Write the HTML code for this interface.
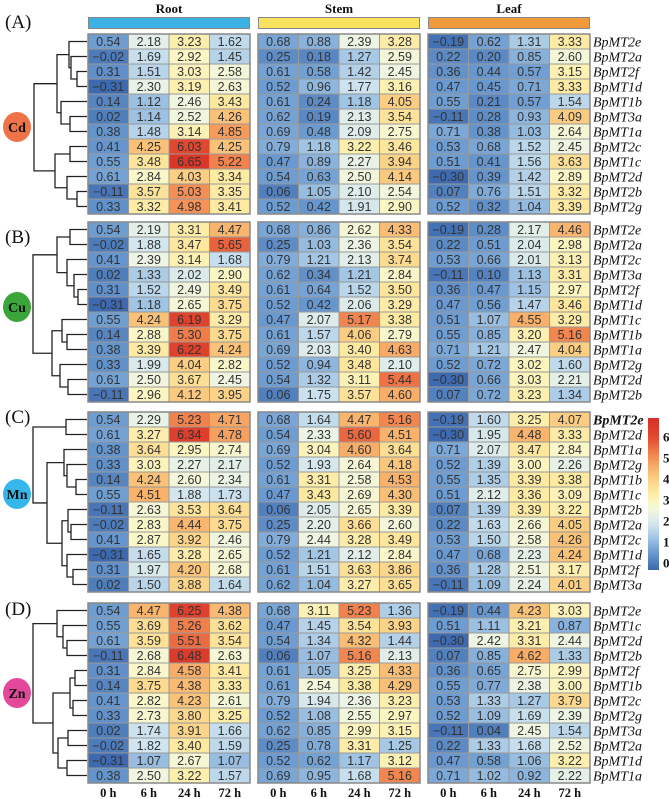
<!DOCTYPE html>
<html><head><meta charset="utf-8">
<style>
html,body{margin:0;padding:0;background:#fff;}
svg{display:block;}
</style></head>
<body>
<svg id="chart" width="669" height="799" viewBox="0 0 669 799" xmlns="http://www.w3.org/2000/svg"></svg>
<script>
const tissues = ["Root","Stem","Leaf"];
const timepoints = ["0 h","6 h","24 h","72 h"];
const metals = ["Cd","Cu","Mn","Zn"];
const panelLetters = ["(A)","(B)","(C)","(D)"];
const colorbarTicks = [0,1,2,3,4,5,6];

const genesA = ["BpMT2e","BpMT2a","BpMT2f","BpMT1d","BpMT1b","BpMT3a","BpMT1a","BpMT2c","BpMT1c","BpMT2d","BpMT2b","BpMT2g"];
const rootA = [[0.54,2.18,3.23,1.62],[-0.02,1.69,2.92,1.45],[0.31,1.51,3.03,2.58],[-0.31,2.30,3.19,2.63],[0.14,1.12,2.46,3.43],[0.02,1.14,2.52,4.26],[0.38,1.48,3.14,4.85],[0.41,4.25,6.03,4.25],[0.55,3.48,6.65,5.22],[0.61,2.84,4.03,3.34],[-0.11,3.57,5.03,3.35],[0.33,3.32,4.98,3.41]];
const stemA = [[0.68,0.88,2.39,3.28],[0.25,0.18,1.27,2.59],[0.61,0.58,1.42,2.45],[0.52,0.96,1.77,3.16],[0.61,0.24,1.18,4.05],[0.62,0.19,2.13,3.54],[0.69,0.48,2.09,2.75],[0.79,1.18,3.22,3.46],[0.47,0.89,2.27,3.94],[0.54,0.63,2.50,4.14],[0.06,1.05,2.10,2.54],[0.52,0.42,1.91,2.90]];
const leafA = [[-0.19,0.62,1.31,3.33],[0.22,0.20,0.85,2.60],[0.36,0.44,0.57,3.15],[0.47,0.45,0.71,3.33],[0.55,0.21,0.57,1.54],[-0.11,0.28,0.93,4.09],[0.71,0.38,1.03,2.64],[0.53,0.68,1.52,2.45],[0.51,0.41,1.56,3.63],[-0.30,0.39,1.42,2.89],[0.07,0.76,1.51,3.32],[0.52,0.32,1.04,3.39]];

const genesB = ["BpMT2e","BpMT2a","BpMT2c","BpMT3a","BpMT2f","BpMT1d","BpMT1c","BpMT1b","BpMT1a","BpMT2g","BpMT2d","BpMT2b"];
const rootB = [[0.54,2.19,3.31,4.47],[-0.02,1.88,3.47,5.65],[0.41,2.39,3.14,1.68],[0.02,1.33,2.02,2.90],[0.31,1.52,2.49,3.49],[-0.31,1.18,2.65,3.75],[0.55,4.24,6.19,3.29],[0.14,2.88,5.30,3.75],[0.38,3.39,6.22,4.24],[0.33,1.99,4.04,2.82],[0.61,2.50,3.67,2.45],[-0.11,2.96,4.12,3.95]];
const stemB = [[0.68,0.86,2.62,4.33],[0.25,1.03,2.36,3.54],[0.79,1.21,2.13,3.74],[0.62,0.34,1.21,2.84],[0.61,0.64,1.52,3.50],[0.52,0.42,2.06,3.29],[0.47,2.07,5.17,3.38],[0.61,1.57,4.06,2.79],[0.69,2.03,3.40,4.63],[0.52,0.94,3.48,2.10],[0.54,1.32,3.11,5.44],[0.06,1.75,3.57,4.60]];
const leafB = [[-0.19,0.28,2.17,4.46],[0.22,0.51,2.04,2.98],[0.53,0.66,2.01,3.13],[-0.11,0.10,1.13,3.31],[0.36,0.47,1.15,2.97],[0.47,0.56,1.47,3.46],[0.51,1.07,4.55,3.29],[0.55,0.85,3.20,5.16],[0.71,1.21,2.47,4.04],[0.52,0.72,3.02,1.60],[-0.30,0.66,3.03,2.21],[0.07,0.72,3.23,1.34]];

const genesC = ["BpMT2e","BpMT2d","BpMT1a","BpMT2g","BpMT1b","BpMT1c","BpMT2b","BpMT2a","BpMT2c","BpMT1d","BpMT2f","BpMT3a"];
const rootC = [[0.54,2.29,5.23,4.71],[0.61,3.27,6.34,4.78],[0.38,3.64,2.95,2.74],[0.33,3.03,2.27,2.17],[0.14,4.24,2.60,2.34],[0.55,4.51,1.88,1.73],[-0.11,2.63,3.53,3.64],[-0.02,2.83,4.44,3.75],[0.41,2.87,3.92,2.46],[-0.31,1.65,3.28,2.65],[0.31,1.97,4.20,2.68],[0.02,1.50,3.88,1.64]];
const stemC = [[0.68,1.64,4.47,5.16],[0.54,2.33,5.60,4.51],[0.69,3.04,4.60,3.64],[0.52,1.93,2.64,4.18],[0.61,3.31,2.58,4.53],[0.47,3.43,2.69,4.30],[0.06,2.05,2.65,3.39],[0.25,2.20,3.66,2.60],[0.79,2.44,3.28,3.49],[0.52,1.21,2.12,2.84],[0.61,1.51,3.63,3.86],[0.62,1.04,3.27,3.65]];
const leafC = [[-0.19,1.60,3.25,4.07],[-0.30,1.95,4.48,3.33],[0.71,2.07,3.47,2.84],[0.52,1.39,3.00,2.26],[0.55,1.35,3.39,3.38],[0.51,2.12,3.36,3.09],[0.07,1.39,3.39,3.22],[0.22,1.63,2.66,4.05],[0.53,1.50,2.58,4.26],[0.47,0.68,2.23,4.24],[0.36,1.28,2.51,3.17],[-0.11,1.09,2.24,4.01]];

const genesD = ["BpMT2e","BpMT1c","BpMT2d","BpMT2b","BpMT2f","BpMT1b","BpMT2c","BpMT2g","BpMT3a","BpMT2a","BpMT1d","BpMT1a"];
const rootD = [[0.54,4.47,6.25,4.38],[0.55,3.69,5.26,3.62],[0.61,3.59,5.51,3.54],[-0.11,2.68,6.48,2.63],[0.31,2.84,4.58,3.41],[0.14,3.75,4.38,3.33],[0.41,2.82,4.23,2.61],[0.33,2.73,3.80,3.25],[0.02,1.74,3.91,1.66],[-0.02,1.82,3.40,1.59],[-0.31,1.07,2.67,1.07],[0.38,2.50,3.22,1.57]];
const stemD = [[0.68,3.11,5.23,1.36],[0.47,1.45,3.54,3.93],[0.54,1.34,4.32,1.44],[0.06,1.07,5.16,2.13],[0.61,1.05,3.25,4.33],[0.61,2.54,3.38,4.29],[0.79,1.94,2.36,3.23],[0.52,1.08,2.55,2.97],[0.62,0.85,2.99,3.15],[0.25,0.78,3.31,1.25],[0.52,0.62,1.17,3.12],[0.69,0.95,1.68,5.16]];
const leafD = [[-0.19,0.44,4.23,3.03],[0.51,1.11,3.21,0.87],[-0.30,2.42,3.31,2.44],[0.07,0.85,4.62,1.33],[0.36,0.65,2.75,2.99],[0.55,0.77,2.38,3.00],[0.53,1.33,1.27,3.79],[0.52,1.09,1.69,2.39],[-0.11,0.04,2.45,1.54],[0.22,1.33,1.68,2.52],[0.47,0.58,1.06,3.22],[0.71,1.02,0.92,2.22]];

// dendrogram topology: [nodeX, left, right], leaves = row index
const treeA = [34,[57,[69,0,[71,1,[77,2,3]]],[61,4,[70,5,6]]],[55,[70,7,8],[67,9,[77,10,11]]]];
const treeB = [33,[57,[70,0,1],[67,2,[74,3,[78,4,5]]]],[52,[62,6,[67,7,8]],[60,9,[68,10,11]]]];
const treeC = [33,[66,0,1],[47,[64,2,[67,3,[76,4,5]]],[62,[68,6,[71,7,8]],[67,9,[73,10,11]]]]];
const treeD = [33,[57,0,[63,1,[67,2,3]]],[53,[70,[75,4,5],[73,6,7]],[58,[68,8,9],[67,10,11]]]];

const panelGenes = [genesA,genesB,genesC,genesD];
const panelData = [[rootA,stemA,leafA],[rootB,stemB,leafB],[rootC,stemC,leafC],[rootD,stemD,leafD]];
const panelTrees = [treeA,treeB,treeC,treeD];

// layout
const panelTop = [34,222,412,603];
const rowH = 15;
const blockX = [88,258,428];
const blockW = 162;
const cellW = blockW/4;
const leafX = 87;
const tissueColors = ["#3cb1e4","#f9e25e","#f19a3c"];
const circleColors = ["#ee7347","#3aa539","#35b7ec","#e4489b"];
const circleY = [127,307,494,693];
const letterY = [28,243,423,615];

const stops = [[-0.35,[58,103,174]],[0.5,[107,155,209]],[1.2,[162,197,228]],[1.8,[207,228,239]],[2.4,[238,245,228]],[2.9,[251,247,197]],[3.4,[253,233,160]],[4.0,[251,208,133]],[4.6,[248,173,104]],[5.3,[240,124,74]],[6.0,[224,72,47]],[6.9,[215,48,39]]];
function color(v){
  if(v<=stops[0][0]) return rgb(stops[0][1]);
  for(let i=1;i<stops.length;i++){
    if(v<=stops[i][0]){
      const a=stops[i-1],b=stops[i],t=(v-a[0])/(b[0]-a[0]);
      return rgb(a[1].map((c,k)=>Math.round(c+(b[1][k]-c)*t)));
    }
  }
  return rgb(stops[stops.length-1][1]);
}
function rgb(a){return "rgb("+a.join(",")+")";}

const NS="http://www.w3.org/2000/svg";
const svg=document.getElementById("chart");
function mk(tag,attrs,parent){const e=document.createElementNS(NS,tag);for(const k in attrs)e.setAttribute(k,attrs[k]);(parent||svg).appendChild(e);return e;}
function rowY(p,r){return panelTop[p]+r*rowH;}

// headers
tissues.forEach((t,i)=>{
  const tt=mk("text",{x:blockX[i]+blockW/2,y:13,"text-anchor":"middle","font-family":"Liberation Serif, serif","font-weight":"bold","font-size":"13",fill:"#111"});
  tt.textContent=t;
  
  
  const b=mk("rect",{x:blockX[i]+0.5,y:17.5,width:blockW-1,height:11,fill:tissueColors[i],stroke:"#888","stroke-width":"1"});
  
  
});

function drawTree(node,p,g){
  if(typeof node==="number"){return {x:leafX,y:rowY(p,node)+rowH/2};}
  const a=drawTree(node[1],p,g), b=drawTree(node[2],p,g);
  const x=node[0];
  mk("path",{d:`M${a.x},${a.y}H${x}V${b.y}H${b.x}`,fill:"none",stroke:"#222","stroke-width":"1.3"},g);
  return {x:x,y:(a.y+b.y)/2};
}

for(let p=0;p<4;p++){
  const g=mk("g",{});
  
  
  const lt=mk("text",{x:5,y:letterY[p],"font-family":"Liberation Serif, serif","font-size":"19",fill:"#111"},g);
  lt.textContent=panelLetters[p];
  
  
  const c=mk("ellipse",{cx:17,cy:circleY[p],rx:14,ry:15,fill:circleColors[p]},g);
  
  
  const ct=mk("text",{x:17,y:circleY[p]+5,"text-anchor":"middle","font-family":"Liberation Serif, serif","font-weight":"bold","font-size":"14",fill:"#111"},g);
  ct.textContent=metals[p];
  
  
  const tg=mk("g",{},g);
  
  
  drawTree(panelTrees[p],p,tg);
  const mats=panelData[p];
  for(let b=0;b<3;b++){
    const bg=mk("g",{},g);
    
    
    mats[b].forEach((row,r)=>{
      row.forEach((v,ci)=>{
        const x=blockX[b]+ci*cellW, y=rowY(p,r);
        const rc=mk("rect",{x:x,y:y,width:cellW,height:rowH,fill:color(v),stroke:"#999","stroke-width":"1"},bg);
        
        
        const t=mk("text",{x:x+cellW/2,y:y+rowH/2+4.5,"text-anchor":"middle","font-family":"Liberation Sans, sans-serif","font-size":"12.5",fill:"#333"},bg);
        t.textContent=(v<0?"\u2212"+Math.abs(v).toFixed(2):v.toFixed(2));
        
        
      });
    });
    const br=mk("rect",{x:blockX[b],y:panelTop[p],width:blockW,height:rowH*12,fill:"none",stroke:"#888","stroke-width":"1.5"},bg);
    
    
  }
  panelGenes[p].forEach((gn,r)=>{
    const t=mk("text",{x:593,y:rowY(p,r)+rowH/2+5,"font-family":"Liberation Serif, serif","font-style":"italic","font-size":"14",fill:"#111"},g);
    if(p===2&&r===0) t.setAttribute("font-weight","bold");
    t.textContent=gn;
    
    
  });
}

// x labels
tissues.forEach((ts,b)=>{
  timepoints.forEach((tp,i)=>{
    const t=mk("text",{x:blockX[b]+i*cellW+cellW/2,y:797,"text-anchor":"middle","font-family":"Liberation Serif, serif","font-weight":"bold","font-size":"12.5",fill:"#111"});
    t.textContent=tp;
    
    
  });
});

// colorbar
const cbTop=418, cbBot=570, cbZero=563, cbUnit=21;
const cbMax=(cbZero-cbTop)/cbUnit, cbMin=(cbZero-cbBot)/cbUnit;
const defs=mk("defs",{});
const lg=mk("linearGradient",{id:"cbgrad",x1:"0",y1:"1",x2:"0",y2:"0"},defs);
for(let i=0;i<=20;i++){const v=cbMin+(cbMax-cbMin)*i/20;mk("stop",{offset:(i/20),"stop-color":color(v)},lg);}
const cb=mk("rect",{x:648,y:cbTop,width:11,height:cbBot-cbTop,fill:"url(#cbgrad)"});


colorbarTicks.forEach(v=>{
  const t=mk("text",{x:663,y:cbZero-v*cbUnit+4.5,"font-family":"Liberation Serif, serif","font-weight":"bold","font-size":"13",fill:"#111"});
  t.textContent=String(v);
  
  
});
</script>
</body></html>
